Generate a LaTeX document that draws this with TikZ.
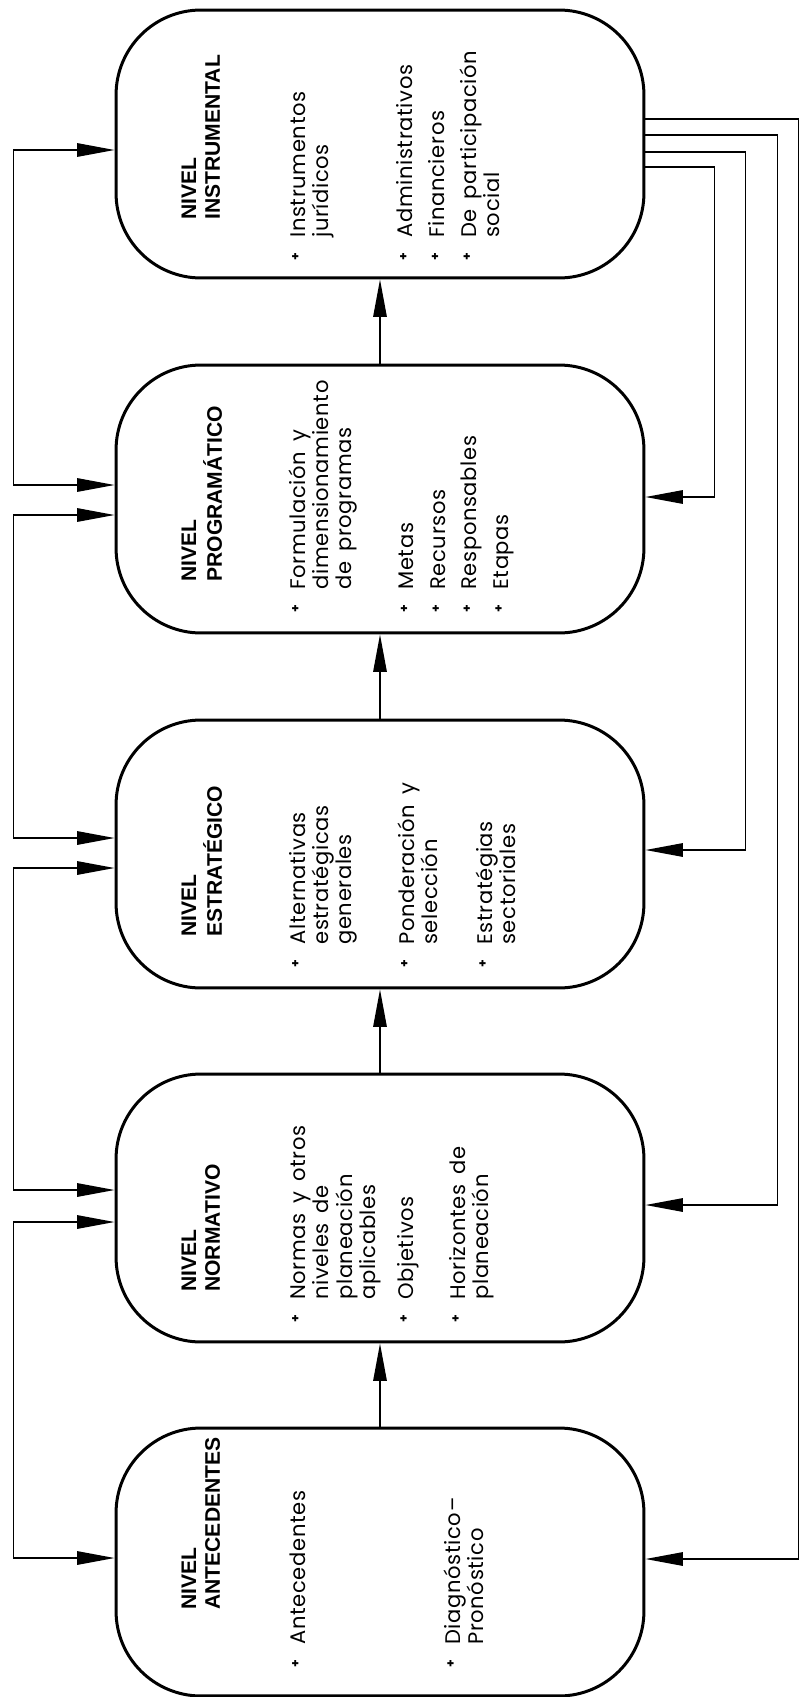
\documentclass[tikz,border=0pt]{standalone}
\usepackage{fontspec}
\setmainfont{Poppins}
\newfontfamily\titlefont{Liberation Sans}
\newfontfamily\itemfont{Poppins}[LetterSpace=3, WordSpace=1.6]
\usetikzlibrary{arrows.meta,calc}

% small raised cross used as list mark
\newcommand{\bul}{\llap{{\bfseries\fontsize{7}{7}\selectfont\raisebox{3pt}{+}}\hspace{0.3cm}}}

\begin{document}
\begin{tikzpicture}[x=0.02cm, y=-0.02cm,
    levelbox/.style={rectangle, rounded corners=1.7cm, draw, line width=0.06cm,
        minimum width=10.56cm, minimum height=5.36cm, inner sep=0pt},
    leveltitle/.style={rotate=90, anchor=base west, inner sep=0pt,
        font=\titlefont\bfseries\fontsize{12}{13.6}\selectfont},
    levelitems/.style={rotate=90, anchor=base west, inner sep=0pt,
        font=\itemfont\fontsize{12}{13.3}\selectfont},
    link/.style={line width=0.03cm},
    fwd/.style={link, -{Triangle[length=0.75cm, width=0.27cm]}},
    twoway/.style={link, {Triangle[length=0.75cm, width=0.27cm]}-{Triangle[length=0.75cm, width=0.27cm]}}
]
    \useasboundingbox (0,0) rectangle (799,1697);

    % the five levels
    \node[levelbox] (inst) at (380,144) {};
    \node[levelbox] (prog) at (380,499) {};
    \node[levelbox] (estr) at (380,854) {};
    \node[levelbox] (norm) at (380,1208) {};
    \node[levelbox] (ant) at (380,1562) {};

    % titles
    \node[leveltitle] (inst-t) at (196,220) {\begin{tabular}[t]{@{}l@{}}NIVEL\\INSTRUMENTAL\end{tabular}};
    \node[leveltitle] (prog-t) at (196,582) {\begin{tabular}[t]{@{}l@{}}NIVEL\\PROGRAMÁTICO\end{tabular}};
    \node[leveltitle] (estr-t) at (196,937) {\begin{tabular}[t]{@{}l@{}}NIVEL\\ESTRATÉGICO\end{tabular}};
    \node[leveltitle] (norm-t) at (196,1292) {\begin{tabular}[t]{@{}l@{}}NIVEL\\NORMATIVO\end{tabular}};
    \node[leveltitle] (ant-t) at (196,1610) {\begin{tabular}[t]{@{}l@{}}NIVEL\\ANTECEDENTES\end{tabular}};

    % contents
    \node[levelitems] (inst-i) at (305,238) {\begin{tabular}[t]{@{}l@{}}
        \bul Instrumentos\\ jurídicos\\[1.22cm]
        \bul Administrativos\\[0.17cm]
        \bul Financieros\\[0.16cm]
        \bul De participación\\ social
    \end{tabular}};
    \node[levelitems] (prog-i) at (305,590) {\begin{tabular}[t]{@{}l@{}}
        \bul Formulación y\\ dimensionamiento\\ de programas\\[0.77cm]
        \bul Metas\\[0.17cm]
        \bul Recursos\\[0.15cm]
        \bul Responsables\\[0.17cm]
        \bul Etapas
    \end{tabular}};
    \node[levelitems] (estr-i) at (305,945) {\begin{tabular}[t]{@{}l@{}}
        \bul Alternativas\\ estratégicas\\ generales\\[0.77cm]
        \bul Ponderación y\\ selección\\[0.62cm]
        \bul Estratégias\\ sectoriales
    \end{tabular}};
    \node[levelitems] (norm-i) at (305,1300) {\begin{tabular}[t]{@{}l@{}}
        \bul Normas y otros\\ niveles de\\ planeación\\ aplicables\\[0.29cm]
        \bul Objetivos\\[0.57cm]
        \bul Horizontes de\\ planeación
    \end{tabular}};
    \node[levelitems] (ant-i) at (305,1645) {\begin{tabular}[t]{@{}l@{}}
        \bul Antecedentes\\[2.63cm]
        \bul Diagnóstico–\\ Pronóstico
    \end{tabular}};

    % upward chain
    \draw[fwd] (ant.north) -- (norm.south);
    \draw[fwd] (norm.north) -- (estr.south);
    \draw[fwd] (estr.north) -- (prog.south);
    \draw[fwd] (prog.north) -- (inst.south);

    % left side, between neighbours
    \draw[twoway] ($(inst.west)+(0,6)$) -- ++(-101,0) |- ($(prog.west)+(0,-14)$);
    \draw[twoway] ($(prog.west)+(0,16)$) -- ++(-101,0) |- ($(estr.west)+(0,-16)$);
    \draw[twoway] ($(estr.west)+(0,14)$) -- ++(-101,0) |- ($(norm.west)+(0,-18)$);
    \draw[twoway] ($(norm.west)+(0,14)$) -- ++(-101,0) |- ($(ant.west)+(0,-4)$);

    % right side, feedback from the instrumental level
    \draw[fwd] ($(inst.east)+(0,-25)$) -- ++(153,0) |- ($(ant.east)+(0,-3)$);
    \draw[fwd] ($(inst.east)+(0,-9)$) -- ++(132,0) |- ($(norm.east)+(0,-3)$);
    \draw[fwd] ($(inst.east)+(0,8)$) -- ++(100,0) |- ($(estr.east)+(0,-4)$);
    \draw[fwd] ($(inst.east)+(0,23)$) -- ++(69,0) |- ($(prog.east)+(0,-2)$);
\end{tikzpicture}
\end{document}
